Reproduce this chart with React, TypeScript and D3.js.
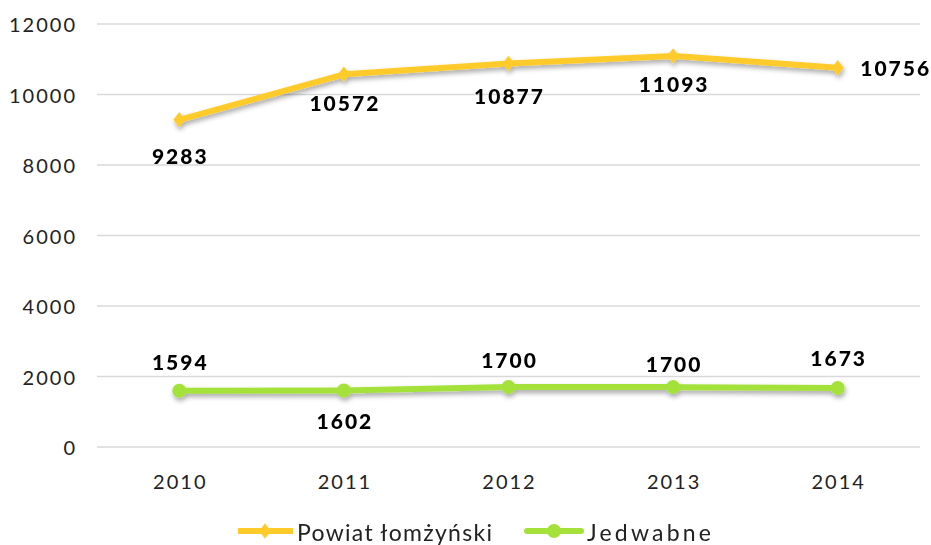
import React from "react";
import * as d3 from "d3";

const years = ["2010", "2011", "2012", "2013", "2014"];
const powiat = [9283, 10572, 10877, 11093, 10756];
const jedwabne = [1594, 1602, 1700, 1700, 1673];
const yTicks = [0, 2000, 4000, 6000, 8000, 10000, 12000];
const seriesNames = ["Powiat łomżyński", "Jedwabne"];
// label placement: dx, dy relative to point
const powiatLabelPos = [[0, 36], [0, 28], [0, 32], [0, 28], [57, 0]];
const jedwabneLabelPos = [[0, -29], [0, 30], [0, -28], [0, -24], [0, -31]];

const W = 931, H = 545;
const left = 97, right = 920, top = 24, bottom = 447;
const FONT = "'Lato', 'Noto Sans', sans-serif";
const YELLOW = "#FFCB2B";
const GREEN = "#A5E13B";

export default function App() {
  const x = d3.scalePoint<string>().domain(years).range([left, right]).padding(0.5);
  const y = d3.scaleLinear().domain([0, 12000]).range([bottom, top]);
  const line = d3.line<number>().x((_, i) => x(years[i])!).y((d) => y(d));
  const diamond = d3.symbol().type(d3.symbolDiamond).size(70)()!;

  return (
    <svg width={W} height={H} style={{ position: "absolute", left: 0, top: 0, background: "#fff" }}>
      <defs>
        <filter id="sh" x="-10%" y="-50%" width="120%" height="200%">
          <feDropShadow dx="1" dy="3" stdDeviation="2.5" floodColor="#000" floodOpacity="0.35" />
        </filter>
      </defs>
      <rect width={W} height={H} fill="#fff" />
      {yTicks.map((t) => (
        <g key={t}>
          <line x1={left} x2={right} y1={y(t)} y2={y(t)} stroke="#d9d9d9" strokeWidth={1.5} />
          <text x={77} y={y(t)} textAnchor="end" dominantBaseline="central" fontFamily={FONT} fontSize={20} letterSpacing={2} fill="#222">
            {t}
          </text>
        </g>
      ))}
      {years.map((yr) => (
        <text key={yr} x={x(yr)! + 1} y={481} textAnchor="middle" dominantBaseline="central" fontFamily={FONT} fontSize={20} letterSpacing={2} fill="#222">
          {yr}
        </text>
      ))}
      <g filter="url(#sh)">
        <path d={line(powiat)!} fill="none" stroke={YELLOW} strokeWidth={6} strokeLinejoin="round" strokeLinecap="round" />
        {powiat.map((v, i) => (
          <path key={i} d={diamond} transform={`translate(${x(years[i])},${y(v)}) scale(1.3,1)`} fill={YELLOW} />
        ))}
        <path d={line(jedwabne)!} fill="none" stroke={GREEN} strokeWidth={6} strokeLinejoin="round" strokeLinecap="round" />
        {jedwabne.map((v, i) => (
          <circle key={i} cx={x(years[i])} cy={y(v)} r={7} fill={GREEN} />
        ))}
      </g>
      {powiat.map((v, i) => (
        <text key={i} x={x(years[i])! + powiatLabelPos[i][0] + 1} y={y(v) + powiatLabelPos[i][1]} textAnchor="middle" dominantBaseline="central" fontFamily={FONT} fontWeight={900} fontSize={21} letterSpacing={2} fill="#000">
          {v}
        </text>
      ))}
      {jedwabne.map((v, i) => (
        <text key={i} x={x(years[i])! + jedwabneLabelPos[i][0] + 1} y={y(v) + jedwabneLabelPos[i][1]} textAnchor="middle" dominantBaseline="central" fontFamily={FONT} fontWeight={900} fontSize={21} letterSpacing={2} fill="#000">
          {v}
        </text>
      ))}
      <g>
        <line x1={238} x2={293} y1={531} y2={531} stroke={YELLOW} strokeWidth={6} />
        <path d={diamond} transform="translate(265,531) scale(1.3,1)" fill={YELLOW} />
        <text x={297} y={541} fontFamily={FONT} fontSize={23} textLength={195} lengthAdjust="spacing" fill="#222">{seriesNames[0]}</text>
        <line x1={527} x2={581} y1={531} y2={531} stroke={GREEN} strokeWidth={6} strokeLinecap="round" />
        <circle cx={554} cy={531} r={7} fill={GREEN} />
        <text x={587} y={541} fontFamily={FONT} fontSize={23} textLength={124} lengthAdjust="spacing" fill="#222">{seriesNames[1]}</text>
      </g>
    </svg>
  );
}
